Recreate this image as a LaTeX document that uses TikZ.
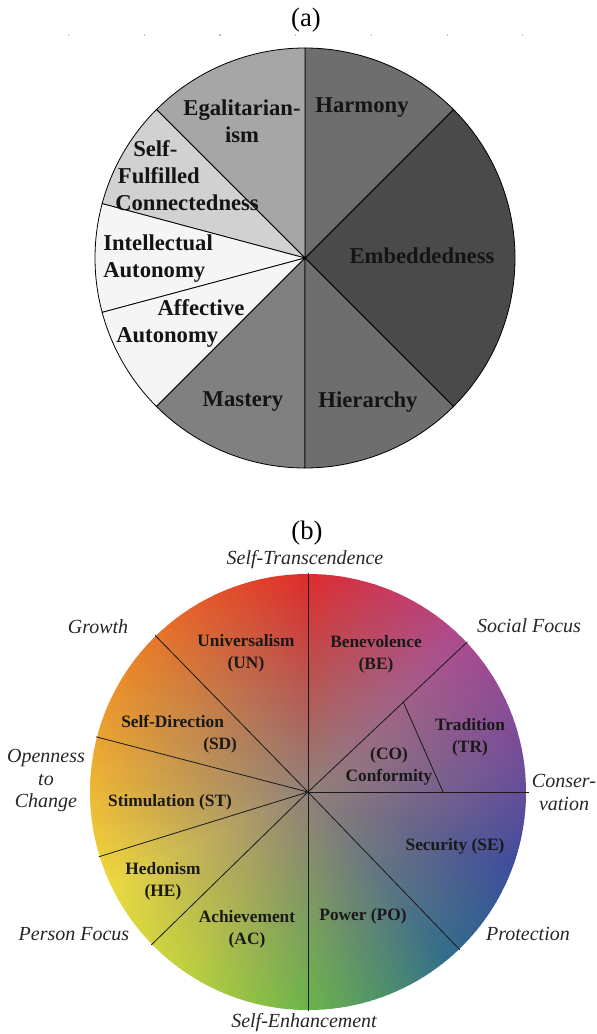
\documentclass[tikz,border=0pt]{standalone}
\usepackage{fontspec}
\setmainfont{Liberation Serif}
\usepackage{tikz}
\usetikzlibrary{fadings}
\definecolor{hueG}{RGB}{104,186,70}
\definecolor{hueT}{RGB}{38,108,142}
\definecolor{hueB}{RGB}{52,72,160}
\definecolor{hueP}{RGB}{96,72,160}
\definecolor{hueM}{RGB}{176,70,148}
\definecolor{hueR}{RGB}{232,34,36}
\definecolor{hueOr}{RGB}{240,128,34}
\definecolor{hueO}{RGB}{248,190,46}
\definecolor{hueYe}{RGB}{246,228,58}
\definecolor{hueY}{RGB}{198,218,56}
\definecolor{wheelgray}{RGB}{146,128,120}
\tikzstyle{sectora}=[draw=black, line width=0.6pt]
\tikzstyle{divider}=[draw=black!90, line width=0.6pt]
\tikzstyle{valuea}=[font=\bfseries\fontsize{17}{20}\selectfont, inner sep=0pt, align=center, text=black!92]
\tikzstyle{valueb}=[font=\bfseries\fontsize{13}{16.5}\selectfont, inner sep=0pt, align=center, text=black!90]
\tikzstyle{pole}=[font=\itshape\fontsize{15}{17}\selectfont, inner sep=0pt, align=center, text=black!85]
\tikzstyle{caption}=[font=\fontsize{20}{24}\selectfont, inner sep=0pt]
\tikzfading[name=wheelfade, inner color=transparent!0, outer color=transparent!100]

\begin{document}
\begin{tikzpicture}[x=0.75pt, y=0.75pt]
    \useasboundingbox (0,0) rectangle (596,-1034);

    % (a) culture circle
    \coordinate (ca) at (305,-258);
    \node[caption] (capa) at (306,-20) {(a)};
    \draw[black!25, line width=0.8pt, dash pattern=on 0.8pt off 56pt] (68,-35) -- (530,-35);

    \foreach \sa/\ea/\tone in {-45/45/black!71, 45/90/black!57, 90/135/black!35, 135/165/black!18,
                               165/195/black!4, 195/225/black!4, 225/270/black!50, 270/315/black!57}
        \filldraw[sectora, fill=\tone] (ca) -- +(\sa:210) arc[start angle=\sa, end angle=\ea, radius=210] -- cycle;

    \foreach \pos/\name/\txt in {{(362,-108)/harmony/Harmony}, {(242,-121.5)/egal/{Egalitarian-\\ism}},
                                 {(422,-256)/embed/Embeddedness}, {(243,-402)/mastery/Mastery},
                                 {(368,-402)/hier/Hierarchy}}
        \node[valuea] (\name) at \pos {\txt};

    \node[valuea, align=left, anchor=west] (selfful) at (115,-175.5) {\hspace*{13.5pt}Self-\\\hspace*{2pt}Fulfilled\\Connectedness};
    \node[valuea, align=left, anchor=west] (intaut) at (103,-258.5) {Intellectual\\Autonomy};
    \node[valuea, align=left, anchor=west] (affaut) at (116,-323.5) {\hspace*{31pt}Affective\\Autonomy};

    % (b) value circle
    \coordinate (cb) at (308,-792);
    \node[caption] (capb) at (307,-533) {(b)};

    \foreach \sa/\ea/\cs/\ce in {-90/-50/hueG/hueT, -50/-20/hueT/hueB, -20/0/hueB/hueP, 0/45/hueP/hueM,
                                 45/90/hueM/hueR, 90/140/hueR/hueOr, 140/180/hueOr/hueO,
                                 180/205/hueO/hueYe, 205/235/hueYe/hueY, 235/270/hueY/hueG}
    {
        \foreach \k in {0,...,19}
        {
            \pgfmathsetmacro\aa{\sa+(\ea-\sa)*\k/20}
            \pgfmathsetmacro\ab{\sa+(\ea-\sa)*(\k+1)/20+0.3}
            \pgfmathtruncatemacro\p{(\k+0.5)*5}
            \colorlet{slicecol}{\ce!\p!\cs}
            \fill[slicecol] (cb) -- +(\aa:218) arc[start angle=\aa, end angle=\ab, radius=218] -- cycle;
        }
    }
    \fill[wheelgray, path fading=wheelfade, fading transform={scale=1.1}] (cb) circle (218);

    \foreach \a in {90,134.3,165.4,197.2,224.3,270,313.9,43.3}
        \draw[divider] (cb) -- +(\a:219);
    \draw[divider] (cb) -- +(0:221);
    \path (cb) +(43.3:131) coordinate (cotop) +(0:135) coordinate (cobot);
    \draw[divider] (cotop) -- (cobot);

    \foreach \pos/\name/\txt in {{(246,-653)/un/{Universalism\\(UN)}}, {(376,-654)/be/{Benevolence\\(BE)}},
                                 {(470,-737.5)/tr/{Tradition\\(TR)}}, {(389,-766.5)/co/{(CO)\\Conformity}},
                                 {(170,-802)/st/{Stimulation (ST)}}, {(455,-846)/se/{Security (SE)}},
                                 {(163,-881.5)/he/{Hedonism\\(HE)}}, {(247,-929.5)/ac/{Achievement\\(AC)}},
                                 {(363,-916)/po/{Power (PO)}}}
        \node[valueb] (\name) at \pos {\txt};
    \node[valueb, align=left, anchor=west] (sd) at (121,-734.5) {Self-Direction\\\hspace*{61.5pt}(SD)};

    \foreach \pos/\name/\txt in {{(305,-560)/transc/Self-Transcendence}, {(98,-627)/growth/Growth},
                                 {(529,-626)/social/Social Focus}, {(46,-780.5)/open/{Openness\\to\\Change}},
                                 {(564,-792.5)/conser/{Conser-\\vation}}, {(74,-934)/person/Person Focus},
                                 {(528,-934)/protect/Protection}, {(304,-1023)/enhance/Self-Enhancement}}
        \node[pole] (\name) at \pos {\txt};
\end{tikzpicture}
\end{document}
